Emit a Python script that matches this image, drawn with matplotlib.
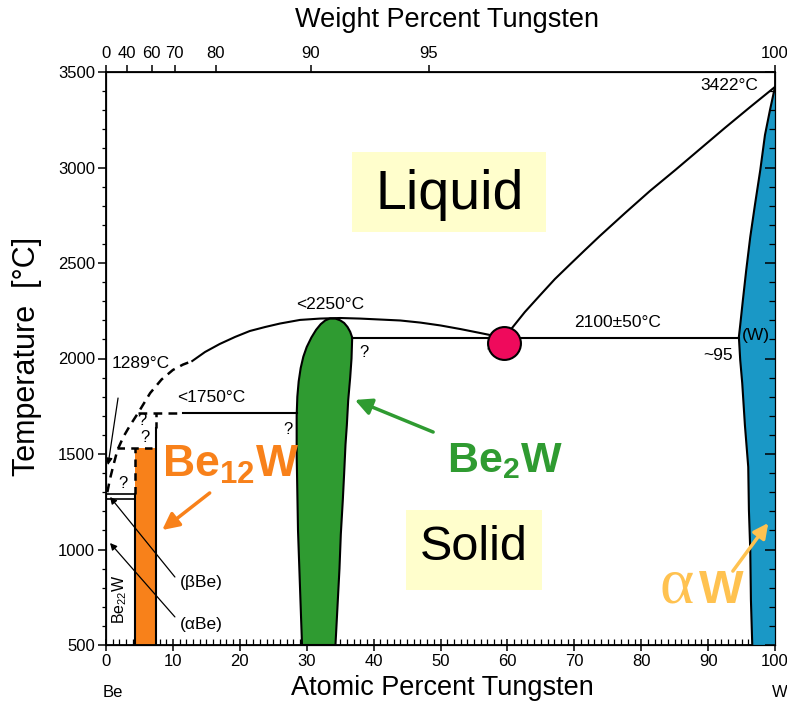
import matplotlib
matplotlib.use("Agg")
import matplotlib.pyplot as plt
import numpy as np

plt.rcParams['font.family'] = ['Liberation Sans', 'DejaVu Sans']
plt.rcParams['mathtext.fontset'] = 'custom'
plt.rcParams['mathtext.rm'] = 'Liberation Sans'
plt.rcParams['mathtext.bf'] = 'Liberation Sans:bold'

# ---------------- data (atomic % W, temperature °C) ----------------
liq_be_dashed_x = [0.2, 0.6, 1.1, 1.7, 2.6, 3.6, 4.8, 6.6, 8.3, 10.0, 11.5, 12.9]
liq_be_dashed_t = [1300, 1370, 1440, 1520, 1590, 1650, 1715, 1819, 1890, 1940, 1968, 1987]
liq_mid_x = [12.9, 14.8, 17.0, 19.3, 21.5, 23.8, 26.0, 29.0, 32.0, 35.0, 38.0, 41.0, 44.0, 47.0, 50.0, 53.0, 56.0, 58.1, 59.6]
liq_mid_t = [1987, 2034, 2076, 2113, 2144, 2165, 2183, 2202, 2209, 2212, 2209, 2204, 2199, 2188, 2173, 2154, 2133, 2118, 2107]
liq_w_x = [60.7, 62.6, 64.9, 67.1, 69.4, 71.6, 73.8, 77.6, 81.3, 85.1, 88.8, 92.5, 96.3, 100.0]
liq_w_t = [2160, 2243, 2332, 2416, 2494, 2568, 2641, 2762, 2877, 2987, 3097, 3207, 3317, 3422]

be2w_x = [29.3, 29.1, 28.9, 28.7, 28.6, 28.5, 28.5, 28.6, 28.8, 29.1, 29.5, 30.0, 30.7, 31.4, 32.1, 32.8, 33.5,
          34.3, 35.0, 35.6, 36.1, 36.5, 36.8, 36.7, 36.5, 36.2, 36.0, 35.8, 35.6, 35.4, 35.1, 34.9, 34.6, 34.3]
be2w_t = [500, 700, 900, 1100, 1300, 1500, 1700, 1800, 1880, 1950, 2010, 2060, 2110, 2150, 2180, 2200, 2210,
          2209, 2200, 2186, 2165, 2140, 2110, 2000, 1900, 1780, 1650, 1550, 1400, 1260, 1080, 900, 700, 500]

w_ss_x = [100.0, 99.25, 98.5, 97.8, 97.0, 96.3, 95.7, 95.2, 94.8, 94.6, 94.8, 95.1, 95.5, 96.0, 96.1, 96.3, 96.4, 96.6]
w_ss_t = [3422, 3301, 3170, 2987, 2804, 2636, 2463, 2306, 2175, 2113, 1992, 1872, 1652, 1432, 1207, 997, 736, 500]

be12w_x = [4.3, 7.5]          # composition range of Be12W band
be12w_top = 1531
be22w_x = 4.3
eut_x, eut_t = 59.5, 2081      # eutectic point
t_eut_line = 2107
t_1750 = 1715
t_peri_top = 1636
t_beta = [1290, 1265]

wt_ticks = [0, 40, 60, 70, 80, 90, 95, 100]
at_ticks = list(range(0, 101, 10))
t_ticks = list(range(500, 3501, 500))

# ---------------- helpers ----------------
def wt_to_at(w):
    w = np.asarray(w, float)
    a = (w / 183.84)
    b = ((100 - w) / 9.012)
    return 100 * a / (a + b)

ORANGE = '#F8811A'
GREEN = '#2F9B31'
BLUE = '#1A98C6'
PINK = '#EF0A5C'
GOLD = '#FFC250'
PALE = '#FFFECC'

fig = plt.figure(figsize=(7.87, 7.03), dpi=100)
ax = fig.add_axes([106/787, 1-645/703, (775-106)/787, (645-72)/703])
ax.set_xlim(0, 100)
ax.set_ylim(500, 3500)

# phase fills
ax.fill(be2w_x, be2w_t, facecolor=GREEN, edgecolor='black', lw=1.5, zorder=3)
ax.fill(w_ss_x + [100, 100], w_ss_t + [500, 3422], facecolor=BLUE, edgecolor='none', zorder=3)
ax.plot(w_ss_x, w_ss_t, color='black', lw=1.5, zorder=4)
ax.fill([be12w_x[0], be12w_x[1], be12w_x[1], be12w_x[0]], [500, 500, be12w_top, be12w_top],
        facecolor=ORANGE, edgecolor='none', zorder=2)

# liquidus
ax.plot(liq_be_dashed_x, liq_be_dashed_t, color='black', lw=1.8, ls=(0, (3.5, 2.5)), zorder=4)
ax.plot(liq_mid_x, liq_mid_t, color='black', lw=1.5, zorder=4)
ax.plot(liq_w_x, liq_w_t, color='black', lw=1.5, zorder=4)

# invariant lines
ax.plot([36.8, 94.6], [t_eut_line, t_eut_line], color='black', lw=1.5, zorder=4)
ax.plot([4.8, 11.5], [t_1750, t_1750], color='black', lw=1.8, ls=(0, (3.5, 2.5)), zorder=4)
ax.plot([11.5, 28.5], [t_1750, t_1750], color='black', lw=1.5, zorder=4)
ax.plot([be12w_x[1], be12w_x[1]], [500, t_peri_top], color='black', lw=1.5, zorder=4)
ax.plot([be12w_x[1], be12w_x[1]], [t_peri_top, t_1750], color='black', lw=1.8, ls=(0, (2.5, 2)), zorder=4)
ax.plot([1.7, be12w_x[1]], [be12w_top, be12w_top], color='black', lw=1.8, ls=(0, (3, 2.5)), zorder=4)
ax.plot([be22w_x, be22w_x], [500, t_beta[0]], color='black', lw=1.5, zorder=4)
ax.plot([be22w_x, be22w_x], [t_beta[0], be12w_top], color='black', lw=1.8, ls=(0, (3, 2.5)), zorder=4)
for t in t_beta:
    ax.plot([0, be22w_x], [t, t], color='black', lw=1.2, zorder=4)

# eutectic point
ax.scatter([eut_x], [eut_t], s=560, facecolor=PINK, edgecolor='black', lw=1.5, zorder=6)

# region boxes
ax.add_patch(plt.Rectangle((36.8, 2662), 29.0, 419, facecolor=PALE, edgecolor='none', zorder=1))
ax.text(51.4, 2856, 'Liquid', fontsize=40, ha='center', va='center', zorder=2)
ax.add_patch(plt.Rectangle((44.8, 788), 20.4, 419, facecolor=PALE, edgecolor='none', zorder=1))
ax.text(55.0, 1008, 'Solid', fontsize=35, ha='center', va='center', zorder=2)

# small labels
fs = 12.5
ax.text(97.5, 3427, '3422°C', fontsize=fs, ha='right', va='center', zorder=7)
ax.text(76.5, 2186, '2100±50°C', fontsize=fs, ha='center', va='center', zorder=7)
ax.text(33.5, 2282, '<2250°C', fontsize=fs, ha='center', va='center', zorder=7)
ax.text(15.8, 1795, '<1750°C', fontsize=fs, ha='center', va='center', zorder=7)
ax.text(0.9, 1976, '1289°C', fontsize=fs, ha='left', va='center', zorder=7)
ax.text(93.7, 2016, '~95', fontsize=fs, ha='right', va='center', zorder=7)
ax.text(97.1, 2118, '(W)', fontsize=fs, ha='center', va='center', zorder=7)
ax.text(57.4, 2044, '~', fontsize=9, ha='center', va='center', zorder=5)
ax.text(11.1, 825, '(βBe)', fontsize=fs, ha='left', va='center', zorder=7)
ax.text(11.1, 605, '(αBe)', fontsize=fs, ha='left', va='center', zorder=7)
ax.text(2.1, 740, 'Be$_{22}$W', fontsize=11.5, rotation=90, ha='center', va='center', zorder=7)
for qx, qt in [(2.5, 1345), (5.4, 1675), (5.8, 1588), (27.2, 1628), (38.5, 2034)]:
    ax.text(qx, qt, '?', fontsize=12, ha='center', va='center', zorder=7)

# arrows
thin = dict(arrowstyle='-|>', color='black', lw=0.9, mutation_scale=10, shrinkA=0, shrinkB=0)
ax.annotate('', xy=(0.3, 1442), xytext=(1.8, 1793), arrowprops=thin, zorder=7)
ax.annotate('', xy=(0.6, 1275), xytext=(10.3, 856), arrowprops=thin, zorder=7)
ax.annotate('', xy=(0.6, 1034), xytext=(10.3, 647), arrowprops=thin, zorder=7)
ax.annotate('', xy=(8.4, 1102), xytext=(15.5, 1296),
            arrowprops=dict(arrowstyle='-|>', color=ORANGE, lw=2.5, mutation_scale=25, shrinkA=0, shrinkB=0), zorder=7)
ax.annotate('', xy=(37.2, 1783), xytext=(48.9, 1615),
            arrowprops=dict(arrowstyle='-|>', color=GREEN, lw=2.5, mutation_scale=25, shrinkA=0, shrinkB=0), zorder=7)
ax.annotate('', xy=(99.0, 1139), xytext=(93.7, 887),
            arrowprops=dict(arrowstyle='-|>', color=GOLD, lw=2.5, mutation_scale=22, shrinkA=0, shrinkB=0), zorder=7)

# phase names
ax.text(8.4, 1380, r'$\mathbf{Be_{12}W}$', fontsize=32, color=ORANGE, ha='left', va='baseline', zorder=7)
ax.text(51.0, 1406, r'$\mathbf{Be_{2}W}$', fontsize=31, color=GREEN, ha='left', va='baseline', zorder=7)
ax.text(82.7, 720, 'α', fontsize=47, color=GOLD, ha='left', va='baseline',
        family=['Liberation Serif', 'DejaVu Serif'], zorder=7)
ax.text(88.7, 720, 'W', fontsize=34, color=GOLD, ha='left', va='baseline', fontweight='bold', zorder=7)

# ---------------- axes / ticks ----------------
for s in ax.spines.values():
    s.set_linewidth(1.3)
ax.set_xticks(at_ticks)
ax.set_xticks(range(0, 101, 1), minor=True)
ax.set_yticks(t_ticks)
ax.set_yticks(range(500, 3501, 100), minor=True)
ax.tick_params(axis='x', which='major', direction='inout', length=9, width=1.1, labelsize=12, top=True, pad=2)
ax.tick_params(axis='x', which='minor', direction='in', length=4, width=0.9, top=True)
ax.tick_params(axis='y', which='major', direction='out', length=6, width=1.1, labelsize=12, pad=2)
ax.tick_params(axis='y', which='minor', direction='out', length=3, width=0.9)

axr = ax.twinx()
axr.set_ylim(500, 3500)
axr.set_yticks(t_ticks)
axr.set_yticks(range(500, 3501, 100), minor=True)
axr.tick_params(axis='y', which='major', direction='in', length=7, width=1.1, labelright=False)
axr.tick_params(axis='y', which='minor', direction='in', length=4, width=0.9)

axt = ax.twiny()
axt.set_xlim(0, 100)
axt.set_xticks(wt_to_at(wt_ticks))
axt.set_xticklabels([str(w) for w in wt_ticks])
axt.tick_params(axis='x', which='major', direction='out', length=5, width=1.1, labelsize=12, pad=3)

ax.text(1.0, -0.083, 'Be', transform=ax.get_xaxis_transform(), fontsize=12, ha='center', va='center')
ax.text(100.7, -0.083, 'W', transform=ax.get_xaxis_transform(), fontsize=12, ha='center', va='center')

fig.text(442/787, 1-688/703, 'Atomic Percent Tungsten', fontsize=19.5, ha='center', va='center')
fig.text(447/787, 1-20/703, 'Weight Percent Tungsten', fontsize=19.5, ha='center', va='center')
fig.text(27/787, 1-356/703, 'Temperature  [°C]', fontsize=22, rotation=90, ha='center', va='center')

fig.savefig('out.png', dpi=100)
